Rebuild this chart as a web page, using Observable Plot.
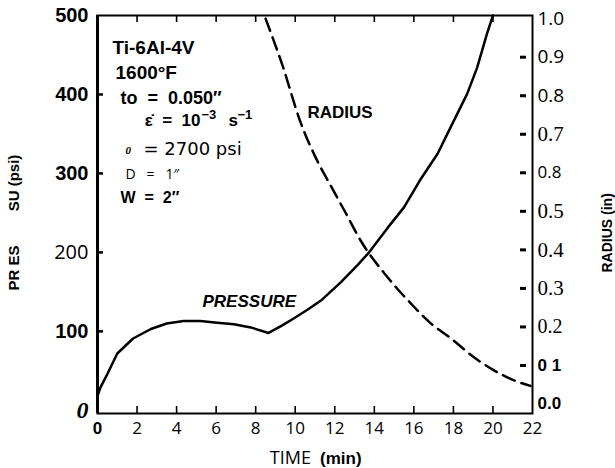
<!DOCTYPE html>
<html><head><meta charset="utf-8">
<script src="https://cdn.jsdelivr.net/npm/d3@7"></script>
<script src="https://cdn.jsdelivr.net/npm/@observablehq/plot@0.6"></script>
<style>
html,body{margin:0;padding:0;background:#fff;}
svg{overflow:visible}
</style>
</head><body><div id="chart"></div>
<script>
// ---- data ----
const timeTicks = [0, 2, 4, 6, 8, 10, 12, 14, 16, 18, 20, 22];
const timeMinorTicks = [2, 4, 6, 8, 10, 12, 14, 16, 18, 20];
const pressureTicks = [0, 100, 200, 300, 400, 500];
const pressureMinorTicks = [100, 200, 300, 400];
const radiusTicks = [0.0, 0.1, 0.2, 0.3, 0.4, 0.5, 0.6, 0.7, 0.8, 0.9, 1.0];
const radiusTickLabels = ["0.0", "0 1", "0.2", "0.3", "0.4", "0.5", "0.8", "0.7", "0.8", "0.9", "1.0"];
const radiusMinorTicks = [0.1, 0.2, 0.3, 0.4, 0.5, 0.6, 0.7, 0.8, 0.9];

// PRESSURE (psi) vs TIME (min)
const pressureTime  = [0.0, 0.15, 0.5, 1.0, 1.8, 2.7, 3.5, 4.35, 5.2, 6.05, 6.9, 7.75, 8.65, 9.3, 9.9, 10.6, 11.3, 12.3, 13.15, 13.7, 14.7, 15.5, 16.3, 17.2, 17.85, 18.7, 19.2, 19.7, 20.0];
const pressureValue = [18, 29, 46, 72, 91, 103, 110, 113, 113, 111, 109, 105, 98, 107, 116, 127, 139, 162, 184, 199, 232, 257, 291, 325, 358, 401, 434, 477, 500];

// RADIUS (in) vs TIME (min)
const radiusTime  = [8.5, 9.36, 10.27, 11.03, 11.79, 12.54, 13.3, 14.67, 15.83, 16.84, 17.86, 19.02, 20.03, 21.04, 21.9];
const radiusValue = [1.0, 0.878, 0.731, 0.64, 0.567, 0.497, 0.425, 0.329, 0.262, 0.21, 0.171, 0.122, 0.088, 0.062, 0.047];

const notes = ["Ti-6Al-4V", "1600°F", "to\u00a0\u00a0=\u00a0\u00a00.050″", "ε̇\u00a0\u00a0=\u00a0\u00a010", "−3", "s", "−1", "0", "= 2700 psi", "D\u00a0\u00a0\u00a0=\u00a0\u00a0\u00a01″", "W\u00a0\u00a0=\u00a0\u00a02″"];
const curveLabels = ["RADIUS", "PRESSURE"];
const axisTitles = ["PR ES\u2003\u2003\u00a0SU (psi)", "RADIUS (in)", "TIME", "(min)"];

// ---- build ----
const pressure = pressureTime.map((t, i) => ({t, p: pressureValue[i]}));
const radius = radiusTime.map((t, i) => ({t, r: radiusValue[i]}));
// right (radius) axis expressed on the pressure scale
const rToY = r => 8 + 488 * r;
const rightLabel = new Map(radiusTicks.map((r, i) => [rToY(r), radiusTickLabels[i]]));

const note = (s, dx, dy, o = {}) => Plot.text([s], {text: d => d, frameAnchor: "top-left", textAnchor: "start", lineAnchor: "bottom", dx, dy, fontWeight: "bold", fontSize: 17, ...o});

const svg = Plot.plot({
  width: 615, height: 468,
  marginLeft: 97, marginRight: 83, marginTop: 15, marginBottom: 55,
  style: {fontFamily: "'Liberation Sans', Arial, sans-serif", background: "#fff", color: "#000"},
  x: {domain: [0, 22]},
  y: {domain: [-4, 500]},
  marks: [
    Plot.frame({stroke: "#000", strokeWidth: 2}),
    Plot.ruleX([0], {stroke: "#000", strokeWidth: 3}),
    Plot.axisX(timeTicks, {anchor: "bottom", tickSize: 0, tickPadding: 8, fontSize: 17, fontFamily: "'Open Sans', sans-serif", label: null}),
    Plot.tickX(timeMinorTicks, {x: d => d, insetTop: 391, stroke: "#000", strokeWidth: 1.6}),
    Plot.tickX(timeMinorTicks, {x: d => d, insetBottom: 391, stroke: "#000", strokeWidth: 1.6}),
    Plot.axisY(pressureTicks, {anchor: "left", tickSize: 0, tickPadding: 9, fontSize: 20, fontWeight: "bold", label: null}),
    Plot.tickY(pressureMinorTicks, {y: d => d, insetRight: 429, stroke: "#000", strokeWidth: 2.5}),
    Plot.axisY(radiusTicks.map(rToY), {anchor: "right", tickSize: 0, tickPadding: 5, fontSize: 19, tickFormat: d => rightLabel.get(d), fontFamily: "'Open Sans', sans-serif", label: null}),
    Plot.tickY(radiusMinorTicks.map(rToY), {y: d => d, insetLeft: 423, insetRight: 6, stroke: "#000", strokeWidth: 3}),
    Plot.line(pressure, {x: "t", y: "p", stroke: "#000", strokeWidth: 2.5}),
    Plot.line(radius, {x: "t", y: d => rToY(d.r), stroke: "#000", strokeWidth: 2.5, strokeDasharray: "13,7", curve: "monotone-x"}),
    note(notes[0], 15, 38, {fontSize: 19}),
    note(notes[1], 18, 63, {fontSize: 19}),
    note(notes[2], 23, 88, {fontSize: 18}),
    note(notes[3], 103, 110, {fontSize: 17, textAnchor: "end"}),
    note(notes[4], 104, 103, {fontSize: 13}),
    note(notes[5], 131, 110, {fontSize: 17}),
    note(notes[6], 140, 103, {fontSize: 13}),
    note(notes[7], 28, 138, {fontSize: 11, fontStyle: "italic", fontFamily: "'Liberation Serif', serif"}),
    note(notes[8], 46, 139, {fontSize: 18, fontWeight: "normal", fontFamily: "'DejaVu Sans', sans-serif"}),
    note(notes[9], 28, 163, {fontSize: 14, fontWeight: "normal", fontFamily: "'Open Sans', sans-serif"}),
    note(notes[10], 23, 187, {fontSize: 16}),
    note(curveLabels[0], 210, 102, {fontSize: 17}),
    note(curveLabels[1], 105, 291, {fontSize: 17, fontStyle: "italic"}),
    Plot.text([axisTitles[0]], {text: d => d, frameAnchor: "left", dx: -83, dy: 76, rotate: -90, textAnchor: "start", fontSize: 15, fontWeight: "bold"}),
    Plot.text([axisTitles[1]], {text: d => d, frameAnchor: "right", dx: 75, dy: 58, rotate: -90, textAnchor: "start", fontSize: 14, fontWeight: "bold"}),
    Plot.text([axisTitles[2]], {text: d => d, frameAnchor: "bottom", dx: -4, dy: 50, textAnchor: "end", lineAnchor: "bottom", fontSize: 18, fontFamily: "'Open Sans', sans-serif"}),
    Plot.text([axisTitles[3]], {text: d => d, frameAnchor: "bottom", dx: 5, dy: 50, textAnchor: "start", lineAnchor: "bottom", fontSize: 17, fontWeight: "bold"})
  ]
});
document.getElementById("chart").appendChild(svg);

// per-label typography of the scanned axes
const yGroups = svg.querySelectorAll('g[aria-label="y-axis tick label"]');
if (yGroups.length >= 2) {
  const left = yGroups[0].querySelectorAll("text");
  left.forEach((t, i) => {
    if (i === 0) { t.setAttribute("font-family", "'Liberation Serif', serif"); t.setAttribute("font-style", "italic"); t.setAttribute("font-size", 24); }
    if (i === 2) { t.setAttribute("font-weight", "normal"); t.setAttribute("font-family", "'Open Sans', sans-serif"); }
  });
  const right = yGroups[1].querySelectorAll("text");
  const serif = new Set([3, 4, 5, 7]);
  right.forEach((t, i) => {
    if (serif.has(i)) { t.setAttribute("font-family", "'Liberation Serif', serif"); t.setAttribute("font-size", 21); }
    if (i === 2) { t.setAttribute("font-family", "'Liberation Serif', serif"); t.setAttribute("font-size", 20); }
    if (i === 0 || i === 1) { t.setAttribute("font-family", "'Liberation Sans', sans-serif"); t.setAttribute("font-weight", "bold"); t.setAttribute("font-size", 17); }
    if (i === 6) { t.setAttribute("font-size", 17); }
  });
}
const xGroup = svg.querySelector('g[aria-label="x-axis tick label"]');
if (xGroup) {
  const first = xGroup.querySelector("text");
  if (first) { first.setAttribute("font-weight", "bold"); first.setAttribute("font-family", "'Liberation Sans', sans-serif"); }
}
</script>
</body></html>
